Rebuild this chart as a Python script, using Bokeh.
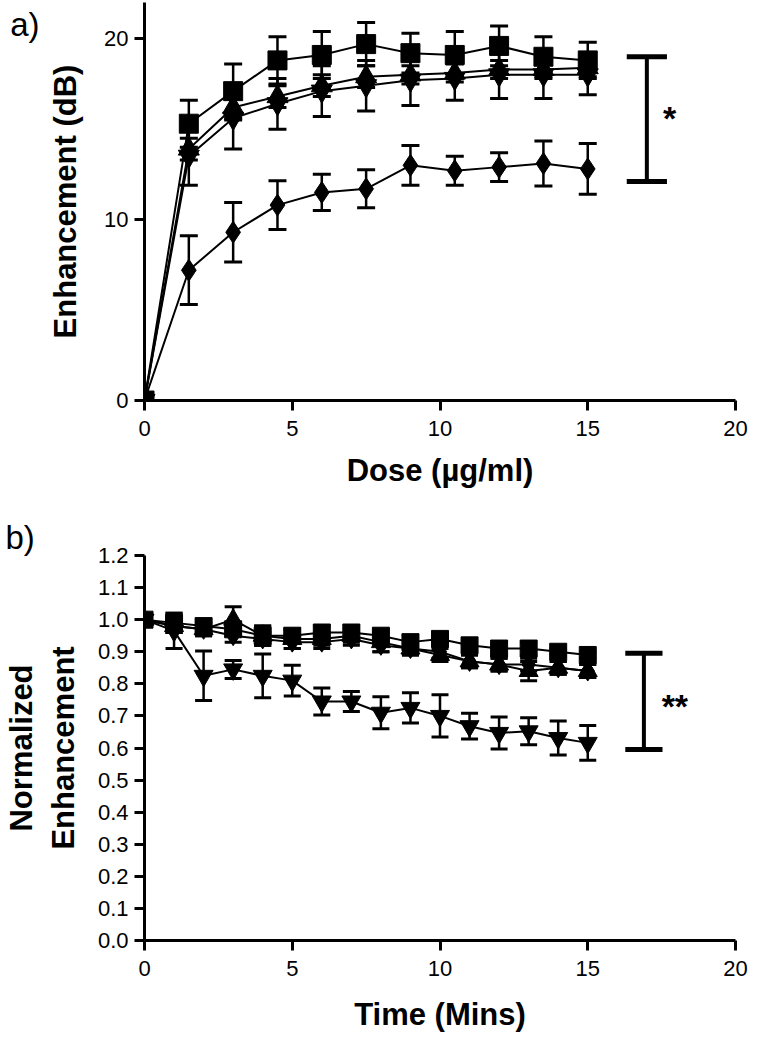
from bokeh.plotting import figure
from bokeh.layouts import column
from bokeh.models import Range1d, FixedTicker, PrintfTickFormatter, Label, LinearAxis, Title
from bokeh.embed import file_html
from bokeh.resources import INLINE

# ---------------- data: panel a (dose response) ----------------
dose = [0, 1.5, 3, 4.5, 6, 7.5, 9, 10.5, 12, 13.5, 15]
a_square = [0, 15.3, 17.1, 18.8, 19.1, 19.7, 19.2, 19.1, 19.6, 19.0, 18.8]
a_square_se = [0, 1.3, 1.5, 1.3, 1.3, 1.2, 1.1, 1.3, 1.1, 1.1, 1.0]
a_triangle = [0, 13.9, 16.2, 16.8, 17.4, 17.9, 18.0, 18.1, 18.3, 18.3, 18.4]
a_triangle_se = [0, 0.6, 0.7, 0.6, 0.6, 0.6, 0.5, 0.5, 0.5, 0.5, 0.5]
a_invtri = [0, 13.5, 15.6, 16.4, 17.1, 17.4, 17.7, 17.8, 18.0, 18.0, 18.0]
a_invtri_se = [0, 1.6, 1.7, 1.4, 1.4, 1.4, 1.4, 1.2, 1.3, 1.3, 1.1]
a_diamond = [0, 7.2, 9.3, 10.8, 11.5, 11.7, 13.0, 12.7, 12.9, 13.1, 12.8]
a_diamond_se = [0, 1.9, 1.65, 1.35, 1.0, 1.05, 1.1, 0.8, 0.8, 1.25, 1.4]
a_xticks = [0, 5, 10, 15, 20]
a_yticks = [0, 10, 20]
a_sig_x = 17.0
a_sig_lo, a_sig_hi = 12.1, 19.0
a_sig_text = "*"

# ---------------- data: panel b (time course) ----------------
time = [0, 1, 2, 3, 4, 5, 6, 7, 8, 9, 10, 11, 12, 13, 14, 15]
b_square = [1.00, 0.99, 0.98, 0.97, 0.95, 0.95, 0.96, 0.96, 0.95, 0.93, 0.94, 0.92, 0.91, 0.91, 0.90, 0.89]
b_square_se = [0, 0.03, 0.02, 0.02, 0.03, 0.02, 0.02, 0.02, 0.02, 0.02, 0.02, 0.02, 0.02, 0.02, 0.01, 0.01]
b_triangle = [1.00, 0.98, 0.97, 1.00, 0.95, 0.94, 0.94, 0.95, 0.93, 0.91, 0.89, 0.87, 0.86, 0.84, 0.85, 0.84]
b_triangle_se = [0, 0.02, 0.02, 0.04, 0.03, 0.03, 0.02, 0.02, 0.03, 0.02, 0.02, 0.02, 0.02, 0.03, 0.02, 0.02]
b_diamond = [1.00, 0.98, 0.97, 0.95, 0.94, 0.93, 0.93, 0.94, 0.92, 0.91, 0.90, 0.87, 0.86, 0.86, 0.85, 0.84]
b_diamond_se = [0, 0.02, 0.02, 0.02, 0.02, 0.02, 0.02, 0.02, 0.02, 0.02, 0.02, 0.02, 0.02, 0.02, 0.02, 0.02]
b_invtri = [1.00, 0.965, 0.825, 0.845, 0.825, 0.81, 0.745, 0.745, 0.71, 0.725, 0.70, 0.668, 0.647, 0.652, 0.631, 0.616]
b_invtri_se = [0, 0.055, 0.077, 0.028, 0.068, 0.048, 0.042, 0.031, 0.05, 0.047, 0.066, 0.04, 0.05, 0.042, 0.053, 0.054]
b_xticks = [0, 5, 10, 15, 20]
b_yticks = [0.0, 0.1, 0.2, 0.3, 0.4, 0.5, 0.6, 0.7, 0.8, 0.9, 1.0, 1.1, 1.2]
b_sig_x = 16.9
b_sig_lo, b_sig_hi = 0.595, 0.895
b_sig_text = "**"

FONT = "Liberation Sans"


def style_axes(p, xticks, yticks):
    p.xaxis.ticker = FixedTicker(ticks=xticks)
    p.yaxis.ticker = FixedTicker(ticks=yticks)
    for ax in (p.xaxis[0], p.yaxis[0]):
        ax.axis_line_width = 3
        ax.axis_line_color = "black"
        ax.major_tick_line_width = 3
        ax.major_tick_line_color = "black"
        ax.major_tick_in = 0
        ax.major_tick_out = 10
        ax.minor_tick_line_color = None
        ax.major_label_text_font = FONT
        ax.major_label_text_font_size = "22px"
        ax.major_label_text_color = "black"
        ax.axis_label_text_font = FONT
        ax.axis_label_text_font_style = "bold"
        ax.axis_label_text_font_size = "31px"
        ax.axis_label_text_color = "black"
    p.xaxis.major_label_standoff = 10
    p.yaxis.major_label_standoff = 6
    p.xaxis.axis_label_standoff = 14
    p.yaxis.axis_label_standoff = 18
    p.xgrid.visible = False
    p.ygrid.visible = False
    p.outline_line_color = None


def series(p, x, y, se, marker, size, cap):
    xs = [a for a, s in zip(x, se) if s > 0]
    lo = [b - s for b, s in zip(y, se) if s > 0]
    hi = [b + s for b, s in zip(y, se) if s > 0]
    p.segment(xs, lo, xs, hi, line_width=2.5, line_color="black")
    p.scatter(xs, lo, marker="dash", size=cap, line_width=3, line_color="black")
    p.scatter(xs, hi, marker="dash", size=cap, line_width=3, line_color="black")
    p.line(x, y, line_width=2, line_color="black")
    p.scatter(x, y, marker=marker, size=size, fill_color="black", line_color="black")


def bracket(p, x, lo, hi, half):
    p.segment([x], [lo], [x], [hi], line_width=4, line_color="black")
    p.segment([x - half, x - half], [lo, hi], [x + half, x + half], [lo, hi],
              line_width=5, line_color="black")


# ---------------- panel a ----------------
pa = figure(width=753, height=505, output_backend="svg", toolbar_location=None,
            x_range=Range1d(0, 20), y_range=Range1d(0, 22),
            min_border_left=139, min_border_right=18, min_border_top=2, min_border_bottom=105)
style_axes(pa, a_xticks, a_yticks)
pa.xaxis.axis_label = "Dose (µg/ml)"
pa.yaxis.axis_label = "Enhancement (dB)"

series(pa, dose, a_diamond, a_diamond_se, "diamond", 22, 18)
series(pa, dose, a_invtri, a_invtri_se, "inverted_triangle", 21, 18)
series(pa, dose, a_triangle, a_triangle_se, "triangle", 21, 18)
series(pa, dose, a_square, a_square_se, "square", 19, 18)
bracket(pa, a_sig_x, a_sig_lo, a_sig_hi, 0.68)
pa.add_layout(Label(x=a_sig_x + 0.55, y=15.6, text=a_sig_text, text_font=FONT,
                    text_font_style="bold", text_font_size="34px", text_baseline="middle",
                    text_align="left", text_color="black"))
# panel letter "a)" as the single label of an extra, line-less axis
panel_a_axis = LinearAxis(ticker=FixedTicker(ticks=[21.4]), major_label_overrides={21.4: "a)"},
                          axis_line_color=None, major_tick_line_color=None,
                          minor_tick_line_color=None, major_tick_in=0, major_tick_out=0,
                          major_label_standoff=6, major_label_text_font=FONT,
                          major_label_text_font_size="33px", major_label_text_color="black")
pa.add_layout(panel_a_axis, "left")

# ---------------- panel b ----------------
pb = figure(width=753, height=529, output_backend="svg", toolbar_location=None,
            x_range=Range1d(0, 20), y_range=Range1d(0, 1.2),
            min_border_left=139, min_border_right=18, min_border_top=50, min_border_bottom=89)
style_axes(pb, b_xticks, b_yticks)
pb.yaxis.formatter = PrintfTickFormatter(format="%.1f")
pb.xaxis.axis_label = "Time (Mins)"
pb.yaxis.axis_label = "Normalized\nEnhancement"
pb.xaxis.axis_label_standoff = 18
pb.yaxis.axis_label_standoff = 14
pb.add_layout(Title(text="b)", align="left", offset=-139, standoff=0, text_font=FONT,
                    text_font_style="normal", text_font_size="33px", text_color="black"),
              "above")

series(pb, time, b_invtri, b_invtri_se, "inverted_triangle", 19, 17)
series(pb, time, b_diamond, b_diamond_se, "diamond", 20, 17)
series(pb, time, b_triangle, b_triangle_se, "triangle", 19, 17)
series(pb, time, b_square, b_square_se, "square", 17, 17)
bracket(pb, b_sig_x, b_sig_lo, b_sig_hi, 0.63)
pb.add_layout(Label(x=b_sig_x + 0.6, y=0.73, text=b_sig_text, text_font=FONT,
                    text_font_style="bold", text_font_size="34px", text_baseline="middle",
                    text_align="left", text_color="black"))

layout = column(pa, pb)
open("out.html", "w").write(file_html(layout, INLINE))
